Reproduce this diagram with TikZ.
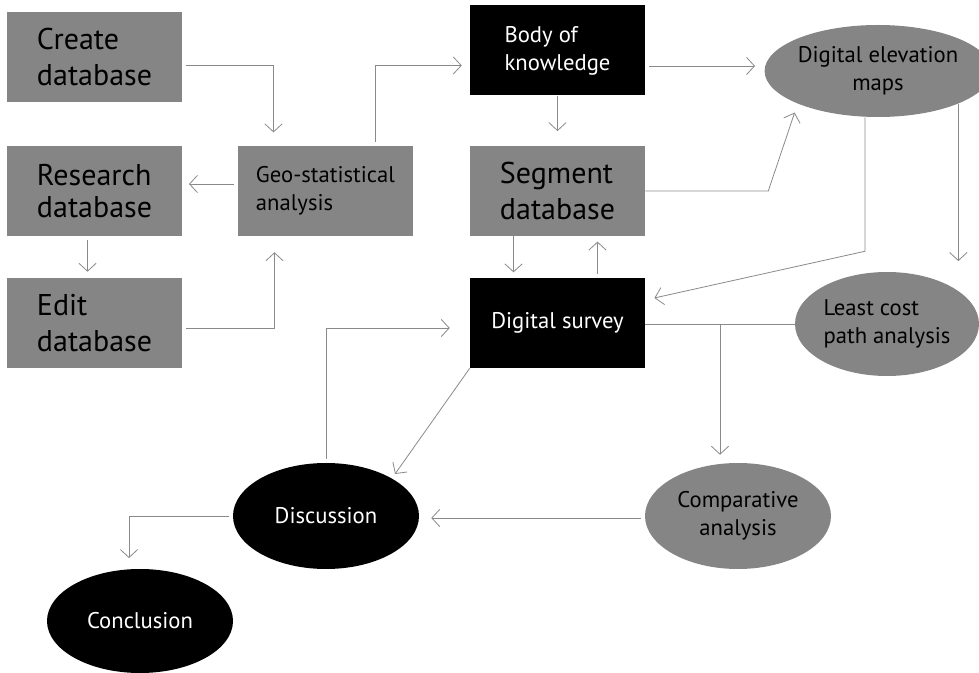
\documentclass[tikz,border=0pt]{standalone}
\usepackage{fontspec}
\setmainfont{PT Sans}
\usetikzlibrary{shapes.geometric,arrows.meta,calc}
\definecolor{boxgray}{HTML}{858585}
\definecolor{linegray}{HTML}{8A8A8A}

\begin{document}
\begin{tikzpicture}
  [
    x=0.75pt, y=-0.75pt,
    greybox/.style={  fill=boxgray,  minimum width=131.25pt,  minimum height=67.5pt,  inner sep=0pt,  align=left,  font=\fontsize{22.5}{27}\selectfont},
    darkbox/.style={  fill=black,  text=white,  minimum width=131.25pt,  minimum height=67.5pt,  inner sep=0pt,  align=left,  font=\fontsize{17}{21}\selectfont},
    greyoval/.style={  ellipse,  fill=boxgray,  minimum width=139.5pt,  minimum height=79.5pt,  inner sep=0pt,  align=center,  font=\fontsize{17}{21}\selectfont},
    darkoval/.style={  ellipse,  fill=black,  text=white,  minimum width=139.5pt,  minimum height=79.5pt,  inner sep=0pt,  font=\fontsize{17}{21}\selectfont},
    conn/.style={  draw=linegray,  line width=0.6pt,  -{Straight Barb[length=6pt,width=13pt]},  shorten >=7pt,  shorten <=3pt},
    link/.style={  draw=linegray,  line width=0.6pt}
  ]
  \useasboundingbox (0,0) rectangle (979,673);

  % left column
  \node[greybox] (create) at (94.5,57) {Create\\database};
  \node[greybox] (research) at (94.5,191) {Research\\[-3pt]database};
  \node[greybox] (edit) at (94.5,323) {Edit\\database};
  \node[greybox,font=\fontsize{17}{21}\selectfont] (geo) at (325.5,191) {Geo-statistical\\analysis};

  % middle column
  \node[darkbox] (body) at (557.5,50.5) {Body of\\knowledge};
  \node[greybox] (segment) at (557.5,191) {Segment\\database};
  \node[darkbox] (survey) at (557.5,323) {Digital survey};

  % ovals
  \node[greyoval,minimum height=69pt] (dem) at (878,71) {Digital elevation\\maps};
  \node[greyoval,align=left,minimum width=138pt,minimum height=78pt] (least) at (887,324) {Least cost\\path analysis};
  \node[greyoval] (comp) at (738,516) {Comparative\\analysis};
  \node[darkoval] (disc) at (326,516) {Discussion};
  \node[darkoval,minimum height=78pt] (concl) at (140,621) {Conclusion};

  \draw[conn,shorten >=10pt] ($(create.east)+(0,8)$) -| ($(geo.north)+(-52,0)$);
  \draw[conn,shorten >=5pt] ($(geo.west)+(0,-7)$) -- ($(research.east)+(0,-7)$);
  \draw[conn,shorten >=4.5pt] ($(research.south)+(-7,0)$) -- ($(edit.north)+(-7,0)$);
  \draw[conn,shorten >=12pt] ($(edit.east)+(0,5)$) -| ($(geo.south)+(-51,0)$);
  \draw[conn,shorten >=6pt] ($(geo.north)+(50,0)$) |- ($(body.west)+(0,15)$);

  \draw[conn] ($(body.east |- dem.west)+(0,-5)$) -- ($(dem.west)+(0,-5)$);
  \draw[conn,shorten >=11pt,shorten <=0pt] (body.south) -- (segment.north);
  \draw[conn,shorten <=0pt] (segment.east) -- ++(123,0) -- (dem.south west);
  \draw[conn,shorten >=4pt,shorten <=0pt] ($(segment.south)+(-44,0)$) -- ($(survey.north)+(-44,0)$);
  \draw[conn,shorten >=4pt] ($(survey.north)+(40,0)$) -- ($(segment.south)+(40,0)$);

  \draw[conn,shorten >=8pt,shorten <=0pt] (dem.south east) -- (dem.south east |- least.north);
  \draw[conn,shorten <=0pt] ($(dem.south)+(-13,0)$) -- ++(0,134) -- ($(survey.east)+(0,-23)$);

  \draw[link] (least.west) -- coordinate[pos=0.5] (split) (survey.east |- least.west);
  \draw[conn,shorten >=6pt,shorten <=0pt] (split) -- (split |- comp.north);
  \draw[conn,shorten >=9pt] ($(comp.west)+(0,2)$) -- ($(disc.east)+(0,2)$);

  \draw[conn,shorten <=0pt,shorten >=4pt] (survey.south west) -- (disc.north east);
  \draw[conn,shorten >=15pt] (disc.north) |- ($(survey.west)+(0,5)$);
  \draw[conn,shorten >=8pt] (disc.west) -| ($(concl.north)+(-11,0)$);
\end{tikzpicture}
\end{document}
